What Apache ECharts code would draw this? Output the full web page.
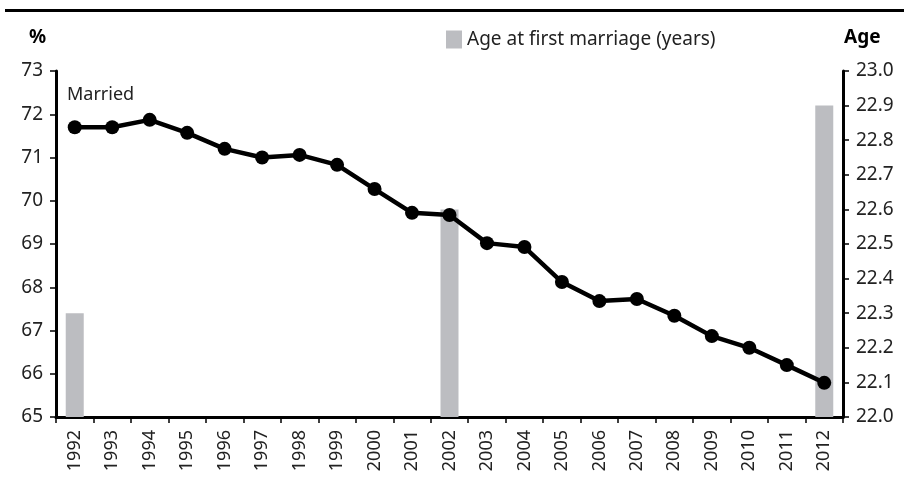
<!DOCTYPE html>
<html>
<head>
<meta charset="utf-8">
<script src="https://cdn.jsdelivr.net/npm/echarts@6/dist/echarts.min.js"></script>
<style>
  html, body { margin: 0; padding: 0; background: #fff; }
  #chart { width: 904px; height: 487px; }
</style>
</head>
<body>
<div id="chart"></div>
<script>
const years = ["1992", "1993", "1994", "1995", "1996", "1997", "1998", "1999", "2000", "2001", "2002",
  "2003", "2004", "2005", "2006", "2007", "2008", "2009", "2010", "2011", "2012"];
const married = [71.7, 71.7, 71.87, 71.57, 71.2, 71.0, 71.06, 70.83, 70.27, 69.72, 69.67,
  69.02, 68.93, 68.12, 67.68, 67.73, 67.34, 66.87, 66.6, 66.2, 65.79];
const ageFirstMarriage = [22.3, null, null, null, null, null, null, null, null, null, 22.6,
  null, null, null, null, null, null, null, null, null, 22.9];

const font = "Noto Sans";
const chart = echarts.init(document.getElementById("chart"));

chart.setOption({
  animation: false,
  textStyle: { fontFamily: font, color: "#222" },
  grid: { left: 56, right: 61, top: 71, bottom: 70 },
  legend: {
    data: ["Age at first marriage (years)"],
    left: 441, top: 25,
    icon: "rect", itemWidth: 16, itemHeight: 18, itemGap: 8,
    textStyle: { fontSize: 19, fontFamily: font, color: "#222" }
  },
  graphic: [
    { type: "rect", shape: { x: 5, y: 9, width: 899, height: 3 }, style: { fill: "#000" } },
    { type: "text", left: 29, top: 28, style: { text: "%", font: "bold 19px " + font, fill: "#000" } },
    { type: "text", left: 844, top: 28, style: { text: "Age", font: "bold 19px " + font, fill: "#000" } },
    { type: "text", left: 67, top: 86, style: { text: "Married", font: "18px " + font, fill: "#222" } }
  ],
  xAxis: {
    type: "category",
    data: years,
    boundaryGap: true,
    axisLine: { lineStyle: { color: "#000", width: 3 } },
    axisTick: { show: true, length: 6, lineStyle: { color: "#000", width: 1.5 } },
    axisLabel: { rotate: 90, fontSize: 18, color: "#222", margin: 13, interval: 0 }
  },
  yAxis: [
    {
      type: "value", min: 65, max: 73, interval: 1, position: "left",
      axisLine: { show: true, lineStyle: { color: "#000", width: 3 } },
      axisTick: { show: true, length: 6, lineStyle: { color: "#000", width: 1.5 } },
      axisLabel: { fontSize: 19, color: "#222", margin: 13 },
      splitLine: { show: false }
    },
    {
      type: "value", min: 22, max: 23, interval: 0.1, position: "right",
      axisLine: { show: true, lineStyle: { color: "#000", width: 3 } },
      axisTick: { show: true, length: 6, lineStyle: { color: "#000", width: 1.5 } },
      axisLabel: { fontSize: 19, color: "#222", margin: 13, formatter: v => v.toFixed(1) },
      splitLine: { show: false }
    }
  ],
  series: [
    {
      name: "Age at first marriage (years)",
      type: "bar",
      yAxisIndex: 1,
      data: ageFirstMarriage,
      barWidth: 18,
      itemStyle: { color: "#bcbdc1" },
      z: 1
    },
    {
      name: "Married",
      type: "line",
      yAxisIndex: 0,
      data: married,
      symbol: "circle",
      symbolSize: 14,
      lineStyle: { color: "#000", width: 4.5 },
      itemStyle: { color: "#000" },
      z: 3
    }
  ]
});
</script>
</body>
</html>
